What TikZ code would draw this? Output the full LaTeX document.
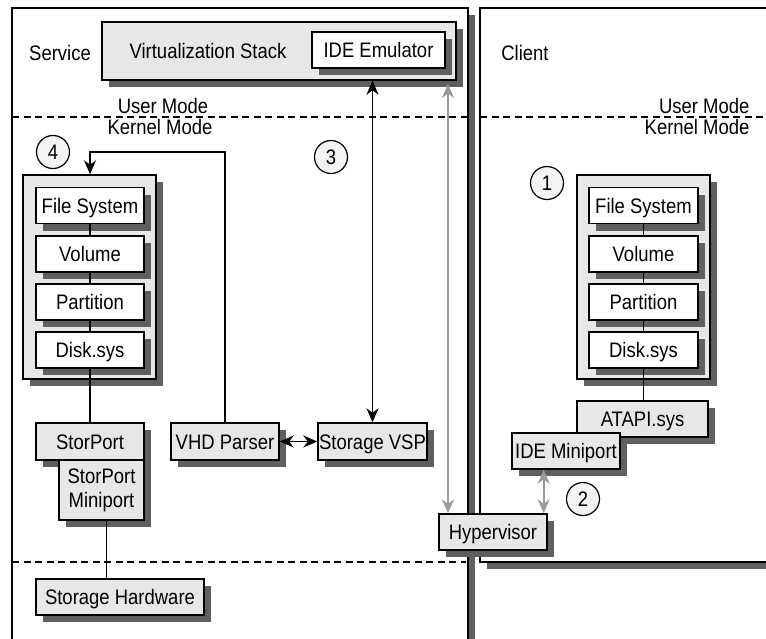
\documentclass[tikz,border=0pt]{standalone}
\usepackage{fontspec}
\setmainfont{Liberation Sans}[FakeStretch=0.88]
\usetikzlibrary{shapes,shadows,arrows.meta}
\definecolor{lgray}{RGB}{230,231,232}
\definecolor{sgray}{RGB}{95,95,95}
\definecolor{agray}{RGB}{155,155,155}
\tikzstyle{shd}=[general shadow={fill=sgray,shadow xshift=7pt,shadow yshift=-7pt}]
\tikzstyle{frm}=[draw=black,line width=1.1pt,fill=white,shd]
\tikzstyle{bx}=[rectangle,draw=black,line width=1.4pt,fill=white,minimum height=36pt,inner sep=0pt,text height=15pt,text depth=0pt,shd]
\tikzstyle{gbx}=[bx,fill=lgray]
\tikzstyle{nd}=[circle,draw=black,line width=1.2pt,fill=lgray!50,minimum size=33pt,inner sep=0pt]
\tikzstyle{ln}=[line width=1.5pt]
\tikzstyle{dsh}=[line width=1.5pt,dash pattern=on 7pt off 4.5pt]
\tikzstyle{arr}=[line width=1.6pt,{Stealth[length=14pt,width=12pt,inset=4.5pt]}-{Stealth[length=14pt,width=12pt,inset=4.5pt]}]
\tikzstyle{arrd}=[line width=1.6pt,-{Stealth[length=14pt,width=12pt,inset=4.5pt]}]
\tikzstyle{garr}=[arr,draw=agray,line width=2pt]

\begin{document}
\begin{tikzpicture}[x=1pt,y=-1pt,font=\fontsize{21}{24}\selectfont]
\useasboundingbox (0,0) rectangle (766,638);
\clip (0,0) rectangle (766,638);
\fill[white] (0,0) rectangle (766,638);
\draw[frm] (12,8) rectangle (468,670);
\draw[frm] (480,8) rectangle (800,562);
\draw[dsh] (12,117) -- (468,117); \draw[dsh] (480,117) -- (766,117);
\draw[dsh] (12,562) -- (466,562);
\node[anchor=base] (svc) at (60,60) {Service};
\node[anchor=base] (cli) at (525,60) {Client};
\node[anchor=base] (um1) at (163,113) {User Mode};
\node[anchor=base] (km1) at (160,134) {Kernel Mode};
\node[anchor=base east] (um2) at (753,113) {User Mode};
\node[anchor=base east] (km2) at (753,134) {Kernel Mode};
\node[gbx,minimum width=354pt,minimum height=58pt] (vs) at (279,51) {};
\node[] (vst) at (208,51) {Virtualization Stack};
\node[bx,minimum width=133pt] (ide) at (378.5,50) {IDE Emulator};
\node[gbx,minimum width=133pt,minimum height=204pt] (ls) at (89.5,277) {};
\node[bx,minimum width=108pt] (fsl) at (90,205.5) {File System};
\node[bx,minimum width=108pt] (voll) at (90,254) {Volume};
\node[bx,minimum width=108pt] (partl) at (90,302) {Partition};
\node[bx,minimum width=108pt] (diskl) at (90,350) {Disk.sys};
\node[gbx,minimum width=133pt,minimum height=204pt] (rs) at (643.5,277) {};
\node[bx,minimum width=109pt] (fsr) at (643.5,205.5) {File System};
\node[bx,minimum width=109pt] (volr) at (643.5,254) {Volume};
\node[bx,minimum width=109pt] (partr) at (643.5,302) {Partition};
\node[bx,minimum width=109pt] (diskr) at (643.5,350) {Disk.sys};
\node[gbx,minimum width=108pt,minimum height=37pt] (sp) at (90,441.5) {StorPort};
\node[gbx,minimum width=85pt,minimum height=60pt,text height={},text depth={},align=center] (spm) at (101.5,490) {StorPort\\Miniport};
\node[gbx,minimum width=168pt] (shw) at (120,597) {Storage Hardware};
\node[gbx,minimum width=108pt,minimum height=37pt] (vhd) at (225,441.5) {VHD Parser};
\node[gbx,minimum width=109pt,minimum height=37pt] (vsp) at (372.5,441.5) {Storage VSP};
\node[gbx,minimum width=131pt] (atapi) at (642.5,419) {ATAPI.sys};
\node[gbx,minimum width=108pt] (idm) at (566,451) {IDE Miniport};
\node[gbx,minimum width=108pt] (hyp) at (493,532) {Hypervisor};
\node[nd] (n4) at (53,152) {4};
\node[nd] (n3) at (331,157) {3};
\node[nd] (n1) at (547,183) {1};
\node[nd] (n2) at (583,499) {2};
\draw[ln] (fsl) -- (voll); \draw[ln] (voll) -- (partl); \draw[ln] (partl) -- (diskl);
\draw[ln] (fsr) -- (volr); \draw[ln] (volr) -- (partr); \draw[ln] (partr) -- (diskr);
\draw[ln] (diskl.south) -- (sp.north);
\draw[ln] (diskr.south) -- (diskr.south |- atapi.north);
\draw[ln] ([xshift=5pt]spm.south) -- ([xshift=5pt]spm.south |- shw.north);
\coordinate (c4) at (90,152);
\draw[arrd] (vhd.north) |- (c4) -- (c4 |- ls.north);
\draw[arr] (vhd.east) -- (vsp.west);
\draw[arr] (vsp.north |- vs.south) -- (vsp.north);
\coordinate (g1) at (448,84);
\draw[garr] (g1) -- (g1 |- hyp.north);
\draw[garr] ([xshift=-4pt]hyp.north east) -- ([xshift=-4pt]hyp.north east |- idm.south);
\end{tikzpicture}
\end{document}
